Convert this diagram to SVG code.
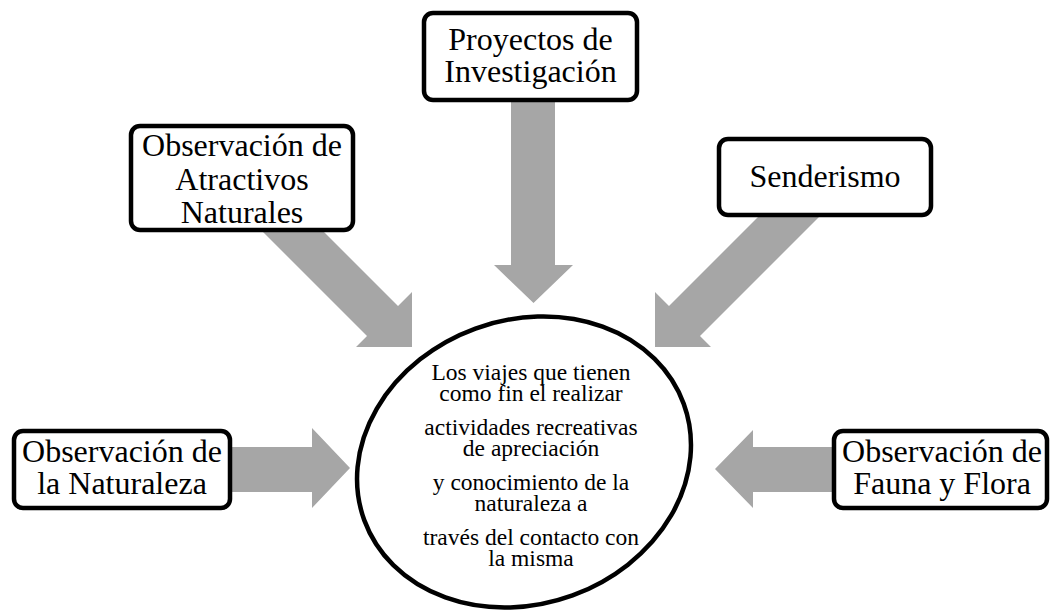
<svg xmlns="http://www.w3.org/2000/svg" width="1050" height="616" viewBox="0 0 1050 616">
<style>
.box{fill:#fff;stroke:#000;stroke-width:4.5}
.arrow{fill:#A6A6A6;stroke:none}
.t{font-family:"Liberation Serif","Times New Roman",serif;font-size:32px;fill:#000;text-anchor:middle}
.c{font-family:"Liberation Serif","Times New Roman",serif;font-size:23.5px;fill:#000;text-anchor:middle}
.circ{fill:#fff;stroke:#000;stroke-width:4.5}
</style>
<rect width="1050" height="616" fill="#fff"/>
<g id="connectors">
  <polygon class="arrow" points="511,100 555,100 555,265 573,265 533.5,303 494,265 511,265"/>
  <polygon class="arrow" points="256,225 317,225 398,306 412,292 412,347 356,347 367,336"/>
  <polygon class="arrow" points="765,210 826,210 700,336 711,347 655,347 655,292 669,306"/>
  <polygon class="arrow" points="228,447 312,447 312,428 350,468 312,508 312,492 228,492"/>
  <polygon class="arrow" points="835,447 753,447 753,430 715,469 753,508 753,492 835,492"/>
</g>
<g id="node-proyectos">
  <rect class="box" x="424" y="13" width="213" height="87" rx="9"/>
  <text class="t" x="530.5" y="50">Proyectos de</text>
  <text class="t" x="530.5" y="82">Investigación</text>
</g>
<g id="node-atractivos">
  <rect class="box" x="131" y="126" width="222" height="104" rx="9"/>
  <text class="t" x="242" y="156">Observación de</text>
  <text class="t" x="242" y="190">Atractivos</text>
  <text class="t" x="242" y="223">Naturales</text>
</g>
<g id="node-senderismo">
  <rect class="box" x="719" y="139" width="212" height="76" rx="9"/>
  <text class="t" x="825" y="187">Senderismo</text>
</g>
<g id="node-naturaleza">
  <rect class="box" x="14" y="431" width="216" height="77" rx="9"/>
  <text class="t" x="122" y="462">Observación de</text>
  <text class="t" x="122" y="494">la Naturaleza</text>
</g>
<g id="node-fauna">
  <rect class="box" x="834" y="431" width="213" height="77" rx="9"/>
  <text class="t" x="942" y="462">Observación de</text>
  <text class="t" x="942" y="494">Fauna y Flora</text>
</g>
<g id="node-center">
  <ellipse class="circ" cx="0" cy="0" rx="170" ry="142" transform="translate(524,462) rotate(-20)"/>
  <text class="c" x="531" y="380">Los viajes que tienen<tspan x="531" dy="21">como fin el realizar</tspan></text>
  <text class="c" x="531" y="435">actividades recreativas<tspan x="531" dy="21">de apreciación</tspan></text>
  <text class="c" x="531" y="490">y conocimiento de la<tspan x="531" dy="21">naturaleza a</tspan></text>
  <text class="c" x="531" y="545">través del contacto con<tspan x="531" dy="21">la misma</tspan></text>
</g>
</svg>
